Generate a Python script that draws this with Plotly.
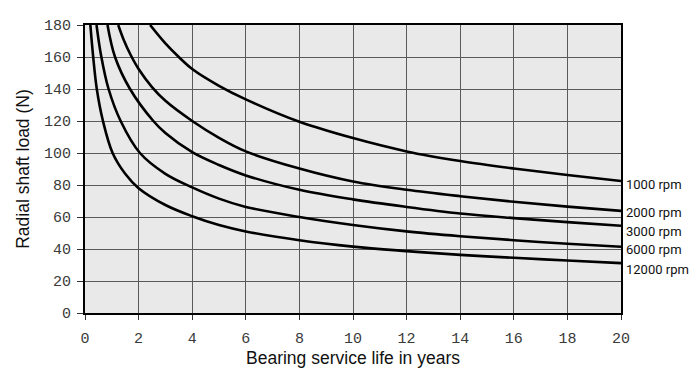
import plotly.graph_objects as go

# ---- data ----
series_names = ["1000 rpm", "2000 rpm", "3000 rpm", "6000 rpm", "12000 rpm"]

t_1000 = [2.43, 3, 3.5, 4, 5, 6, 8, 10, 12, 14, 16, 18, 20]
f_1000 = [180, 168.5, 160, 152.5, 142, 133.5, 119.5, 109.3, 101, 95, 90.3, 86.2, 82.5]

t_2000 = [1.24, 1.45, 1.7, 2, 2.5, 3, 4, 5, 6, 8, 10, 12, 14, 16, 18, 20]
f_2000 = [180, 170.5, 161.4, 152.5, 141.2, 132.6, 120, 109.5, 101, 90.3, 82.2, 77, 73, 69.5, 66.5, 63.8]

t_3000 = [0.84, 1.12, 1.68, 2.55, 3, 4, 5, 6, 8, 10, 12, 14, 16, 18, 20]
f_3000 = [180, 160, 140, 120, 112.5, 100.5, 92.5, 86, 77, 71, 66.3, 62.2, 59.3, 56.8, 54.5]

t_6000 = [0.43, 0.6, 0.88, 1.33, 2.05, 3, 4, 5, 6, 8, 10, 12, 14, 16, 18, 20]
f_6000 = [180, 161, 140, 120, 100, 87, 78.5, 71.5, 66.3, 60, 55, 51, 48, 45.5, 43.3, 41.4]

t_12000 = [0.2, 0.3, 0.44, 0.67, 1.03, 1.5, 2, 3, 4, 5, 6, 8, 10, 12, 14, 16, 18, 20]
f_12000 = [180, 161, 140, 120, 100, 87, 78, 67.5, 60.5, 55, 51, 45.5, 41.5, 38.7, 36.3, 34.5, 32.8, 31.2]

x_ticks = [0, 2, 4, 6, 8, 10, 12, 14, 16, 18, 20]
y_ticks = [0, 20, 40, 60, 80, 100, 120, 140, 160, 180]

# label placement (layout, in data units of the y axis)
label_y = [80.5, 62.7, 51, 39.6, 27.3]

all_t = [t_1000, t_2000, t_3000, t_6000, t_12000]
all_f = [f_1000, f_2000, f_3000, f_6000, f_12000]

fig = go.Figure()
for name, tt, ff in zip(series_names, all_t, all_f):
    fig.add_trace(go.Scatter(
        x=tt, y=ff, mode="lines", name=name,
        line=dict(color="black", width=2.6, shape="spline", smoothing=1.0),
        showlegend=False, cliponaxis=True,
    ))

for name, ly in zip(series_names, label_y):
    fig.add_annotation(
        x=20, y=ly, xref="x", yref="y", text=name, showarrow=False,
        xanchor="left", yanchor="middle", xshift=3,
        font=dict(family="Roboto, Liberation Sans, sans-serif", size=13, color="#111"),
    )

tick_font = dict(family="Liberation Mono, DejaVu Sans Mono, Courier New, monospace", size=15, color="#3a3a3a")
title_font = dict(family="Liberation Sans, Arial, sans-serif", size=17.5, color="#111")

fig.update_layout(
    width=690, height=368,
    margin=dict(l=77, r=77, t=10, b=63),
    paper_bgcolor="white",
    plot_bgcolor="#e9e9e9",
    xaxis=dict(
        range=[0, 20], tickvals=x_ticks, ticktext=[str(v) for v in x_ticks],
        showgrid=True, gridcolor="#5a5a5a", gridwidth=1,
        showline=True, linecolor="black", linewidth=2, mirror=True,
        ticks="outside", ticklen=5, tickcolor="#333", tickwidth=1,
        ticklabelstandoff=5,
        tickfont=tick_font, zeroline=False,
        title=dict(text="Bearing service life in years", font=title_font, standoff=2),
    ),
    yaxis=dict(
        range=[0, 180], tickvals=y_ticks, ticktext=[str(v) for v in y_ticks],
        showgrid=True, gridcolor="#5a5a5a", gridwidth=1,
        showline=True, linecolor="black", linewidth=2, mirror=True,
        ticks="outside", ticklen=6, tickcolor="#333", tickwidth=1,
        ticklabelstandoff=3,
        tickfont=tick_font, zeroline=False,
        title=dict(text="Radial shaft load (N)", font=title_font, standoff=10),
    ),
)

fig.write_html("out.html")
